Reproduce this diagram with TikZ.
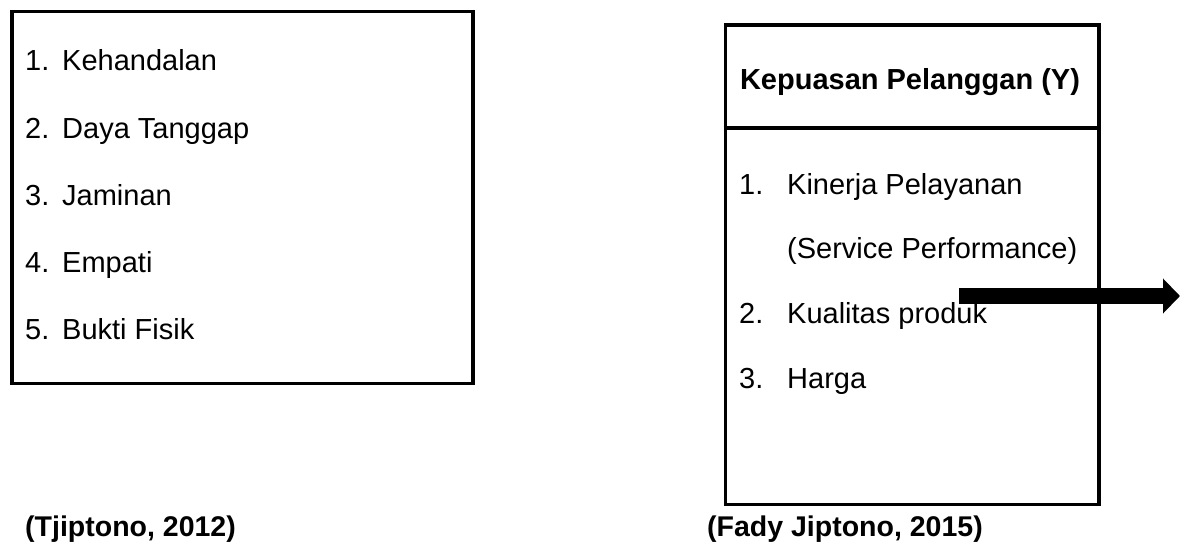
\documentclass[tikz,border=0pt]{standalone}
\usepackage{fontspec}
\setmainfont{Liberation Sans}
\usetikzlibrary{arrows.meta}
\begin{document}
\begin{tikzpicture}[x=1pt,y=-1pt,
  frame/.style={draw=black,line width=3.6pt},
  txt/.style={anchor=base west,inner sep=0pt,font=\fontsize{29}{34}\selectfont},
  btxt/.style={anchor=base west,inner sep=0pt,font=\fontsize{28.5}{34}\selectfont\bfseries},
  bigarrow/.style={line width=16pt,-{Triangle[length=17pt,width=34pt]}}]
\useasboundingbox (0,0) rectangle (1186,549);
% left box
\node[frame,anchor=north west,minimum width=461pt,minimum height=372pt,inner sep=0pt] (lbox) at (10,9.5) {};
\foreach \n/\t/\y in {1/Kehandalan/70,2/Daya Tanggap/138,3/Jaminan/205,4/Empati/272,5/Bukti Fisik/339}{
  \node[txt] (ln\n) at (25,\y) {\n.};
  \node[txt] (lt\n) at (62,\y) {\t};
}
% right box
\node[frame,anchor=north west,minimum width=373.5pt,minimum height=479.5pt,inner sep=0pt] (rbox) at (723.5,23) {};
\coordinate (dl) at (723.5,128);
\coordinate (dr) at (1097,128);
\draw[frame] (dl) -- (dr);
\node[anchor=base,inner sep=0pt,font=\fontsize{29}{34}\selectfont\bfseries] (head) at (910,89) {Kepuasan Pelanggan (Y)};
\node[txt] (rn1) at (739,194) {1.};
\node[txt] (rt1) at (787,194) {Kinerja Pelayanan};
\node[txt] (rt1b) at (787,258) {(Service Performance)};
\node[txt] (rn2) at (739,323) {2.};
\node[txt] (rt2) at (787,323) {Kualitas produk};
\node[txt] (rn3) at (739,388) {3.};
\node[txt] (rt3) at (787,388) {Harga};
% arrow
\coordinate (as) at (959,296);
\coordinate (ae) at (1180,296);
\draw[bigarrow] (as) -- (ae);
% captions
\node[btxt] (c1) at (25,536) {(Tjiptono, 2012)};
\node[btxt] (c2) at (707,536) {(Fady Jiptono, 2015)};
\end{tikzpicture}
\end{document}
